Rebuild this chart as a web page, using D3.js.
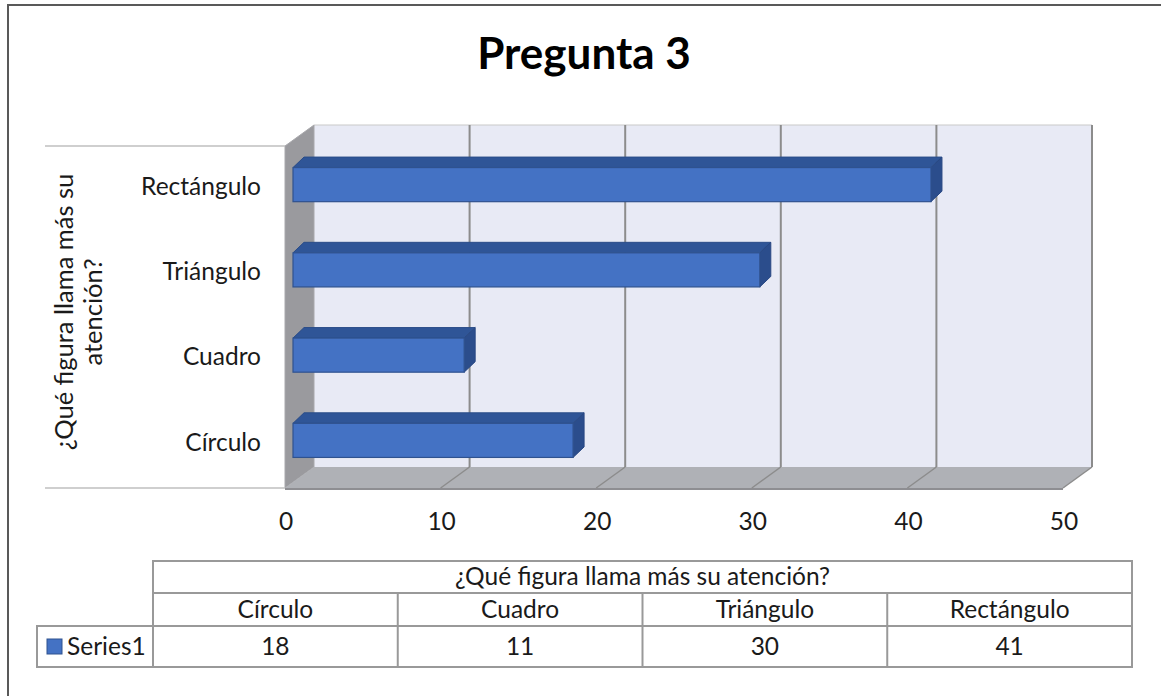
<!DOCTYPE html>
<html>
<head>
<meta charset="utf-8">
<script src="https://cdn.jsdelivr.net/npm/d3@7"></script>
<style>
  html, body { margin: 0; padding: 0; background: #fff; }
  svg { display: block; font-family: Lato, "Open Sans", sans-serif; }
</style>
</head>
<body>
<svg id="chart" width="1161" height="696"></svg>
<script>
// Survey results: which figure draws the most attention
const title = "Pregunta 3";
const axisTitle = ["¿Qué figura llama más su", "atención?"];
const tableTitle = "¿Qué figura llama más su atención?";
const seriesName = "Series1";
const categories = ["Círculo", "Cuadro", "Triángulo", "Rectángulo"];
const values = [18, 11, 30, 41];
const ticks = [0, 10, 20, 30, 40, 50];

const svg = d3.select("#chart");
const fs = 24.5;

// Chart frame
svg.append("rect").attr("x", 8).attr("y", 5).attr("width", 1160).attr("height", 700)
  .attr("fill", "#fff").attr("stroke", "#595959").attr("stroke-width", 2);

// Title
svg.append("text").attr("x", 584).attr("y", 69).attr("text-anchor", "middle")
  .attr("font-size", 44).attr("font-weight", "bold").attr("fill", "#000").text(title);

// 3D box geometry: front plane and depth offset to the back wall
const front = { top: 146, bottom: 488 };
const depth = { dx: 29, dy: -21 };
const x = d3.scaleLinear().domain([0, 50]).range([285, 1063]);
const xBack = v => x(v) + depth.dx;
const backTop = front.top + depth.dy, backBottom = front.bottom + depth.dy;

// Back wall
svg.append("rect").attr("x", xBack(0)).attr("y", backTop)
  .attr("width", xBack(50) - xBack(0)).attr("height", backBottom - backTop)
  .attr("fill", "#E8EAF5");
svg.append("line").attr("x1", xBack(0)).attr("x2", xBack(50))
  .attr("y1", backTop).attr("y2", backTop).attr("stroke", "#C9C9C9").attr("stroke-width", 1);

// Side wall
svg.append("polygon")
  .attr("points", [[x(0), front.top], [xBack(0), backTop], [xBack(0), backBottom], [x(0), front.bottom]].join(" "))
  .attr("fill", "#9A9A9E").attr("stroke", "#A8A8AC").attr("stroke-width", 1);

// Floor
svg.append("polygon")
  .attr("points", [[x(0), front.bottom], [xBack(0), backBottom], [xBack(50), backBottom], [x(50), front.bottom]].join(" "))
  .attr("fill", "#AFB1B6");
svg.append("line").attr("x1", x(0)).attr("x2", x(50)).attr("y1", front.bottom + 1).attr("y2", front.bottom + 1)
  .attr("stroke", "#8E8E92").attr("stroke-width", 2);

// Gridlines on back wall and floor
const grid = svg.append("g");
grid.selectAll(".gw").data(ticks.slice(1)).join("line")
  .attr("x1", d => xBack(d)).attr("x2", d => xBack(d))
  .attr("y1", backTop).attr("y2", backBottom)
  .attr("stroke", "#8C8C8C").attr("stroke-width", 2);
grid.selectAll(".gf").data(ticks.slice(1)).join("line")
  .attr("x1", d => xBack(d)).attr("x2", d => x(d))
  .attr("y1", backBottom).attr("y2", front.bottom)
  .attr("stroke", "#8C8C8C").attr("stroke-width", 1.5);

// Category axis boundary lines
[front.top, front.bottom].forEach(yy => {
  svg.append("line").attr("x1", 45).attr("x2", x(0)).attr("y1", yy).attr("y2", yy)
    .attr("stroke", "#BFBFBF").attr("stroke-width", 1.5);
});

// Bars sit in a plane slightly behind the front edge
const barShift = 8;
const xb = d3.scaleLinear().domain([0, 50]).range([x(0) + barShift, x(50) + barShift]);
const y = d3.scaleBand().domain(categories.slice().reverse())
  .range([142, 483]).paddingInner(0.6).paddingOuter(0.3);
const bd = { dx: 11, dy: -10.5 };

const bars = svg.append("g").selectAll("g").data(categories.map((c, i) => ({ c, v: values[i] }))).join("g");
bars.each(function (d) {
  const g = d3.select(this);
  const x0 = xb(0), x1 = xb(d.v), y0 = y(d.c), y1 = y(d.c) + y.bandwidth();
  g.append("polygon")
    .attr("points", [[x0, y0], [x0 + bd.dx, y0 + bd.dy], [x1 + bd.dx, y0 + bd.dy], [x1, y0]].join(" "))
    .attr("fill", "#2F5597").attr("stroke", "#2A4C88").attr("stroke-width", 1);
  g.append("polygon")
    .attr("points", [[x1, y0], [x1 + bd.dx, y0 + bd.dy], [x1 + bd.dx, y1 + bd.dy], [x1, y1]].join(" "))
    .attr("fill", "#2B4D8C").attr("stroke", "#284883").attr("stroke-width", 1);
  g.append("rect").attr("x", x0).attr("y", y0).attr("width", x1 - x0).attr("height", y1 - y0)
    .attr("fill", "#4472C4").attr("stroke", "#2F528F").attr("stroke-width", 1.2);
});

// Category labels
svg.append("g").selectAll("text").data(categories).join("text")
  .attr("x", 261).attr("y", d => y(d) + y.bandwidth() / 2 + 4)
  .attr("text-anchor", "end").attr("dominant-baseline", "middle")
  .attr("font-size", fs).attr("fill", "#1a1a1a").text(d => d);

// Value axis labels
svg.append("g").selectAll("text").data(ticks).join("text")
  .attr("x", d => x(d) + 1).attr("y", 530).attr("text-anchor", "middle")
  .attr("font-size", fs).attr("fill", "#1a1a1a").text(d => d);

// Axis title (rotated, two lines)
const at = svg.append("text").attr("transform", "translate(0,312) rotate(-90)")
  .attr("text-anchor", "middle").attr("font-size", fs + 1).attr("fill", "#1a1a1a");
at.append("tspan").attr("x", 0).attr("y", 73).text(axisTitle[0]);
at.append("tspan").attr("x", 0).attr("y", 102).text(axisTitle[1]);

// Data table
const colX = d3.scaleBand().domain(categories).range([153, 1132]);
const rows = [561, 593, 626, 667];
const tg = svg.append("g");
const lineStyle = s => s.attr("stroke", "#999").attr("stroke-width", 2);
tg.append("rect").attr("x", 153).attr("y", rows[0]).attr("width", 1132 - 153).attr("height", rows[3] - rows[0])
  .attr("fill", "none").call(lineStyle);
tg.append("rect").attr("x", 37).attr("y", rows[2]).attr("width", 153 - 37).attr("height", rows[3] - rows[2])
  .attr("fill", "none").call(lineStyle);
[rows[1], rows[2]].forEach(r => tg.append("line").attr("x1", 153).attr("x2", 1132).attr("y1", r).attr("y2", r).call(lineStyle));
categories.slice(1).forEach(c => tg.append("line").attr("x1", colX(c)).attr("x2", colX(c))
  .attr("y1", rows[1]).attr("y2", rows[3]).call(lineStyle));

tg.append("text").attr("x", (153 + 1132) / 2).attr("y", rows[1] - 8).attr("text-anchor", "middle")
  .attr("font-size", fs).attr("fill", "#1a1a1a").text(tableTitle);
tg.selectAll(".cat").data(categories).join("text")
  .attr("x", d => colX(d) + colX.bandwidth() / 2).attr("y", rows[2] - 8).attr("text-anchor", "middle")
  .attr("font-size", fs).attr("fill", "#1a1a1a").text(d => d);
tg.selectAll(".val").data(categories.map((c, i) => ({ c, v: values[i] }))).join("text")
  .attr("x", d => colX(d.c) + colX.bandwidth() / 2).attr("y", rows[3] - 12).attr("text-anchor", "middle")
  .attr("font-size", fs).attr("fill", "#1a1a1a").text(d => d.v);

tg.append("rect").attr("x", 47).attr("y", 639).attr("width", 15).attr("height", 15)
  .attr("fill", "#4472C4").attr("stroke", "#2F528F").attr("stroke-width", 1);
tg.append("text").attr("x", 67).attr("y", rows[3] - 12)
  .attr("font-size", fs).attr("fill", "#1a1a1a").text(seriesName);
</script>
</body>
</html>
